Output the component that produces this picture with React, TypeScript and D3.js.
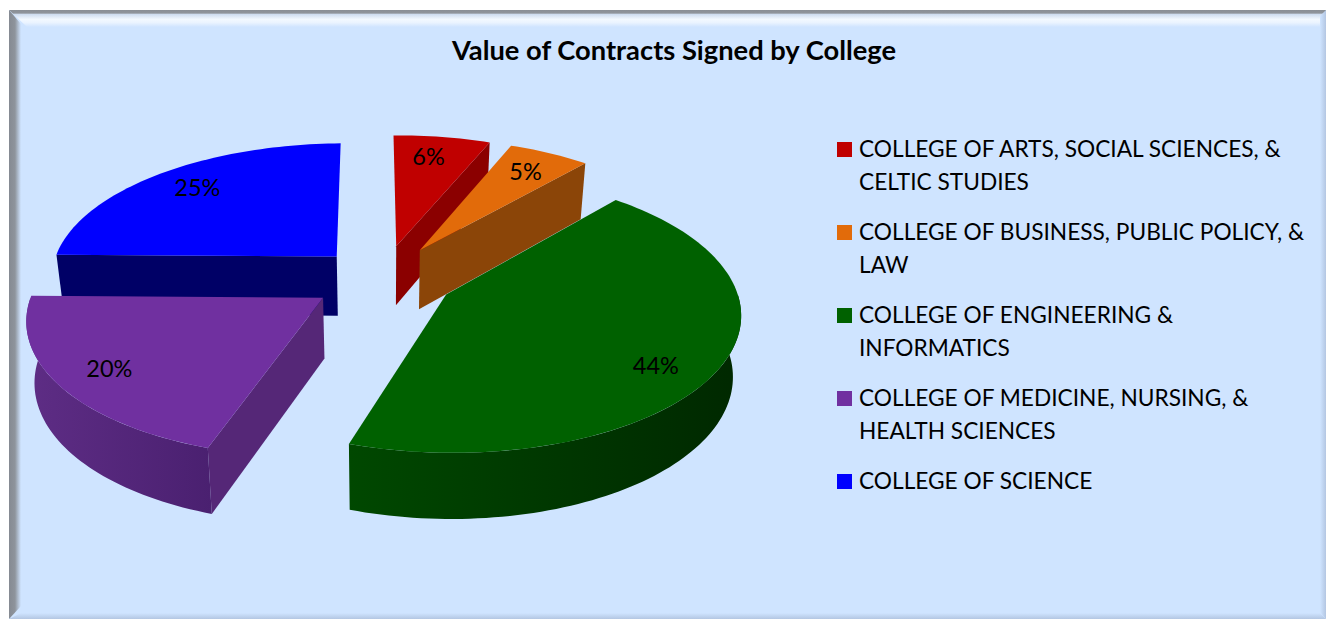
import React from "react";
import * as d3 from "d3";

const colleges = [
  ["COLLEGE OF ARTS, SOCIAL SCIENCES, &", "CELTIC STUDIES"],
  ["COLLEGE OF BUSINESS, PUBLIC POLICY, &", "LAW"],
  ["COLLEGE OF ENGINEERING &", "INFORMATICS"],
  ["COLLEGE OF MEDICINE, NURSING, &", "HEALTH SCIENCES"],
  ["COLLEGE OF SCIENCE"],
];
const shares = [6.3, 5.3, 43.7, 20.2, 24.5];
const topColors = ["#C00000", "#E26B0A", "#006100", "#7030A0", "#0000FF"];
const sideColors = ["#8B0000", "#8B4508", "#004400", "#552777", "#000066"];
const wallLeft = ["#8B0000", "#8B4508", "#004800", "#5E2D85", "#000066"];
const wallRight = ["#8B0000", "#8B4508", "#002800", "#4A2070", "#000066"];
const explodeBy = [0.25, 0.25, 0.25, 0.25, 0.235];
const labelTurn = [-1.5, 0, 6.5, 0, 1.5];
const labelReach = [0.8, 0.8, 0.82, 0.82, 0.8];
const drawOrder = [4, 0, 1, 2, 3];

const W = 1328, H = 619;
const VX = 383, VY = 278, RX = 287, RY = 133, K = 0.13, SHEAR = 3;
const ROT = (-1 * Math.PI) / 180;
const FONT = "Lato, Carlito, Calibri, sans-serif";

const pie = d3.pie<number>().sort(null).startAngle(ROT).endAngle(2 * Math.PI + ROT);
const arcs = pie(shares);

type P = [number, number];
function project(a: number, r: number, b: number, e: number): P {
  const u = e * Math.sin(b) + r * Math.sin(a);
  const v = e * Math.cos(b) + r * Math.cos(a);
  const s = 1 / (1 + K * v);
  return [VX + RX * u * s + SHEAR * v, VY - RY * v * s];
}
function lower([x, y]: P): P {
  return [VX + (x - VX) * 0.977, y + 60 + (y - VY) * 0.035];
}
const line = d3.line<P>();
const sweep = (a0: number, a1: number, b: number, e: number): P[] => {
  const n = Math.max(2, Math.ceil(Math.abs(a1 - a0) * 40));
  return d3.range(n + 1).map((i) => project(a0 + ((a1 - a0) * i) / n, 1, b, e));
};

export default function App() {
  return (
    <svg width={W} height={H} style={{ position: "absolute", left: 0, top: 0, background: "#fff" }}>
      <defs>
        <linearGradient id="bt" x1="0" y1="0" x2="0" y2="1">
          <stop offset="0" stopColor="#8A8F96" />
          <stop offset="0.18" stopColor="#8F949B" />
          <stop offset="0.26" stopColor="#CFDDF0" />
          <stop offset="0.55" stopColor="#F2F8FF" />
          <stop offset="0.75" stopColor="#EAF3FF" />
          <stop offset="1" stopColor="#CFE4FF" />
        </linearGradient>
        <linearGradient id="bl" x1="0" y1="0" x2="1" y2="0">
          <stop offset="0" stopColor="#858A92" />
          <stop offset="0.5" stopColor="#8E949C" />
          <stop offset="1" stopColor="#CFE4FF" />
        </linearGradient>
        <linearGradient id="br" x1="0" y1="0" x2="1" y2="0">
          <stop offset="0" stopColor="#CFE4FF" />
          <stop offset="1" stopColor="#B3C6E2" />
        </linearGradient>
        <linearGradient id="bb" x1="0" y1="0" x2="0" y2="1">
          <stop offset="0" stopColor="#CFE4FF" />
          <stop offset="1" stopColor="#B3C6E2" />
        </linearGradient>
        {shares.map((_, i) => (
          <linearGradient key={i} id={`wall${i}`} x1="0" y1="0" x2="1" y2="0">
            <stop offset="0" stopColor={wallLeft[i]} />
            <stop offset="1" stopColor={wallRight[i]} />
          </linearGradient>
        ))}
      </defs>

      <rect x={9} y={10} width={1317} height={609} fill="#CFE4FF" />
      <polygon points="9,10 1326,10 1326,27 27,27" fill="url(#bt)" />
      <polygon points="9,10 21,24 21,606 9,619" fill="url(#bl)" />
      <polygon points="1326,10 1326,619 1320,612 1320,16" fill="url(#br)" />
      <polygon points="9,619 21,613 1320,613 1326,619" fill="url(#bb)" />

      <text x={674} y={60} textAnchor="middle" fontFamily={FONT} fontWeight={700} fontSize={27.3} fill="#000">
        Value of Contracts Signed by College
      </text>

      {drawOrder.map((i) => {
        const { startAngle: a0, endAngle: a1 } = arcs[i];
        const b = (a0 + a1) / 2;
        const e = explodeBy[i];
        const apex = project(0, 0, b, e);
        const rim = sweep(a0, a1, b, e);
        const wa0 = Math.max(a0, Math.PI * 0.5);
        const wa1 = Math.min(a1, Math.PI * 1.5);
        const wallTop = wa1 > wa0 ? sweep(wa0, wa1, b, e) : [];
        const sides: number[] = [];
        if (a0 > Math.PI && a0 < Math.PI * 1.6) sides.push(a0);
        if (a1 < Math.PI * 0.5) sides.push(a1);
        return (
          <g key={i}>
            {sides.map((a) => {
              const c = project(a, 1, b, e);
              return (
                <path
                  key={a}
                  d={line([apex, c, lower(c), lower(apex)]) + "Z"}
                  fill={sideColors[i]}
                />
              );
            })}
            {wallTop.length > 0 && (
              <path
                d={line([...wallTop, ...wallTop.map(lower).reverse()]) + "Z"}
                fill={`url(#wall${i})`}
              />
            )}
            <path d={line([apex, ...rim]) + "Z"} fill={topColors[i]} />
          </g>
        );
      })}

      {arcs.map((d, i) => {
        const b = (d.startAngle + d.endAngle) / 2;
        const [x, y] = project(b + (labelTurn[i] * Math.PI) / 180, labelReach[i], b, explodeBy[i]);
        return (
          <text key={i} x={x} y={y + 8.5} textAnchor="middle" fontFamily={FONT} fontSize={23.5} fill="#000">
            {Math.round(shares[i])}%
          </text>
        );
      })}

      {colleges.map((lines, i) => {
        const top = 142 + 83 * i;
        return (
          <g key={i}>
            <rect x={837} y={top} width={15} height={15} fill={topColors[i]} />
            {lines.map((t, j) => (
              <text key={j} x={859} y={top + 15 + 33 * j} fontFamily={FONT} fontSize={22.7} fill="#000">
                {t}
              </text>
            ))}
          </g>
        );
      })}
    </svg>
  );
}
